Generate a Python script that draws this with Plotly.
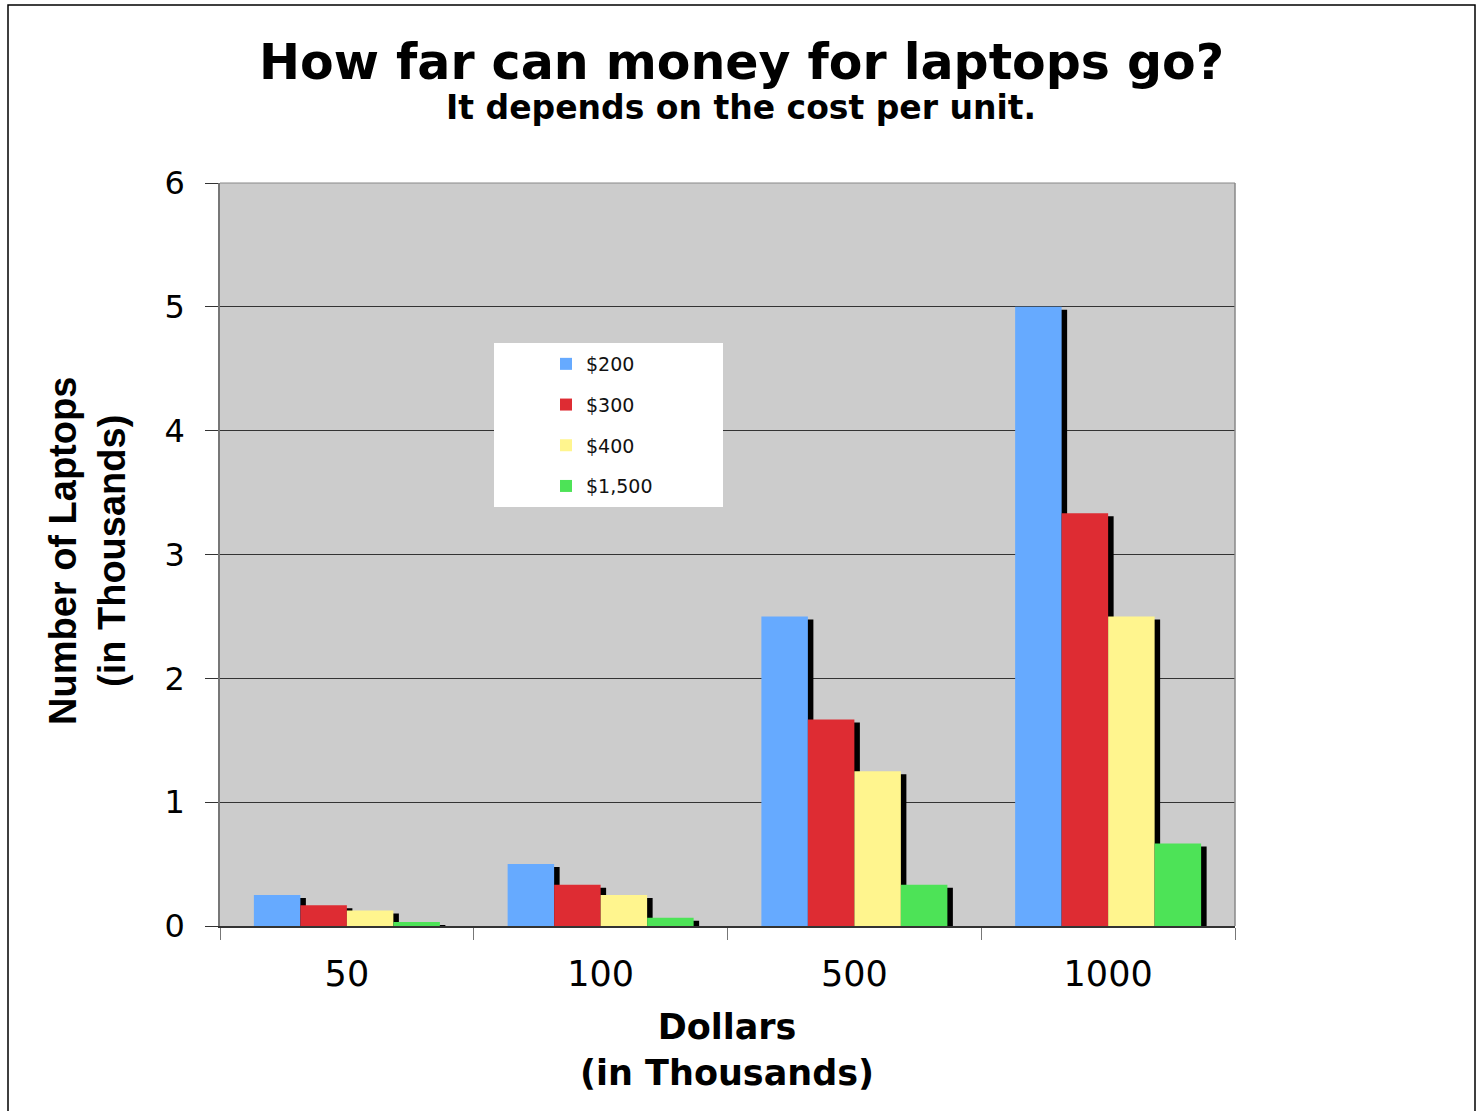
import plotly.graph_objects as go

categories = ["50", "100", "500", "1000"]
series_names = ["$200", "$300", "$400", "$1,500"]
v200 = [0.25, 0.5, 2.5, 5.0]
v300 = [0.1667, 0.3333, 1.6667, 3.3333]
v400 = [0.125, 0.25, 1.25, 2.5]
v1500 = [0.0333, 0.0667, 0.3333, 0.6667]
series_values = [v200, v300, v400, v1500]
colors = ["#66AAFF", "#DE2C33", "#FFF58E", "#4DE357"]
y_ticks = [0, 1, 2, 3, 4, 5, 6]

W, H = 1483, 1111
L, R, T, B = 220, 248, 183, 185
plot_w = W - L - R
plot_h = H - T - B
cat_px = plot_w / len(categories)
bw = 46.5 / cat_px
sh_dx = 5.5 / cat_px
sh_dy = 3 * 6 / plot_h

fig = go.Figure()
# shadows
for i, vals in enumerate(series_values):
    fig.add_trace(go.Bar(
        x=categories, y=vals, base=-sh_dy, width=bw, offset=(-2 + i) * bw + sh_dx,
        marker=dict(color="black", line=dict(width=0)), showlegend=False, hoverinfo="skip"))
for i, vals in enumerate(series_values):
    fig.add_trace(go.Bar(
        x=categories, y=vals, width=bw, offset=(-2 + i) * bw, name=series_names[i],
        legendgroup=series_names[i],
        marker=dict(color=colors[i], line=dict(width=0))))

def px_x(p):
    return (p - L) / plot_w

def px_y(p):
    return (H - B - p) / plot_h

fig.add_shape(type="rect", xref="paper", yref="paper",
              x0=px_x(494), x1=px_x(723), y0=px_y(507), y1=px_y(343),
              fillcolor="white", line=dict(width=0), layer="above")
fig.add_shape(type="rect", xref="paper", yref="paper",
              x0=px_x(8), x1=px_x(1475), y0=px_y(1120), y1=px_y(5),
              fillcolor="rgba(0,0,0,0)", line=dict(color="black", width=1.5))

fig.add_annotation(text="<b>How far can money for laptops go?</b>", xref="paper", yref="paper",
                   x=px_x(741), y=px_y(63), showarrow=False, xanchor="center", yanchor="middle",
                   font=dict(family="DejaVu Sans", size=49, color="black"))
fig.add_annotation(text="<b>It depends on the cost per unit.</b>", xref="paper", yref="paper",
                   x=px_x(741), y=px_y(107), showarrow=False, xanchor="center", yanchor="middle",
                   font=dict(family="DejaVu Sans", size=33, color="black"))
fig.add_annotation(text="<b>Number of Laptops<br>(in Thousands)</b>", xref="paper", yref="paper",
                   x=px_x(87), y=px_y(551), showarrow=False, xanchor="center", yanchor="middle",
                   textangle=-90,
                   font=dict(family="Liberation Sans", size=38, color="black"))
fig.add_annotation(text="<b>Dollars<br>(in Thousands)</b>", xref="paper", yref="paper",
                   x=px_x(727), y=px_y(1050), showarrow=False, xanchor="center", yanchor="middle",
                   font=dict(family="DejaVu Sans", size=35, color="black"))

fig.update_layout(
    width=W, height=H,
    margin=dict(l=L, r=R, t=T, b=B),
    paper_bgcolor="white", plot_bgcolor="#CCCCCC",
    barmode="overlay",
    showlegend=True,
    legend=dict(x=px_x(546), y=px_y(345), xanchor="left", yanchor="top",
                bgcolor="rgba(0,0,0,0)", tracegroupgap=13, traceorder="grouped",
                font=dict(family="DejaVu Sans", size=19, color="#111")),
    xaxis=dict(type="category", categoryorder="array", categoryarray=categories,
               tickson="boundaries", ticks="outside", ticklen=12, tickcolor="#777",
               showline=True, linecolor="#333", linewidth=1.5, mirror=False,
               showgrid=False, tickfont=dict(family="DejaVu Sans", size=35, color="black"),
               ticklabelstandoff=16, range=[-0.5, 3.5]),
    yaxis=dict(range=[0, 6], tickvals=y_ticks, ticks="outside", ticklen=13, tickcolor="#333",
               showline=True, linecolor="#777", linewidth=1.5, showgrid=True, gridcolor="#333",
               gridwidth=1, zeroline=False, tickfont=dict(family="DejaVu Sans", size=32, color="black"),
               ticklabelstandoff=14),
)
fig.add_shape(type="line", xref="paper", yref="paper", x0=1, x1=1, y0=0, y1=1,
              line=dict(color="#888", width=1.5))
fig.add_shape(type="line", xref="paper", yref="paper", x0=0, x1=1, y0=1, y1=1,
              line=dict(color="#888", width=1))

fig.write_html("out.html")
